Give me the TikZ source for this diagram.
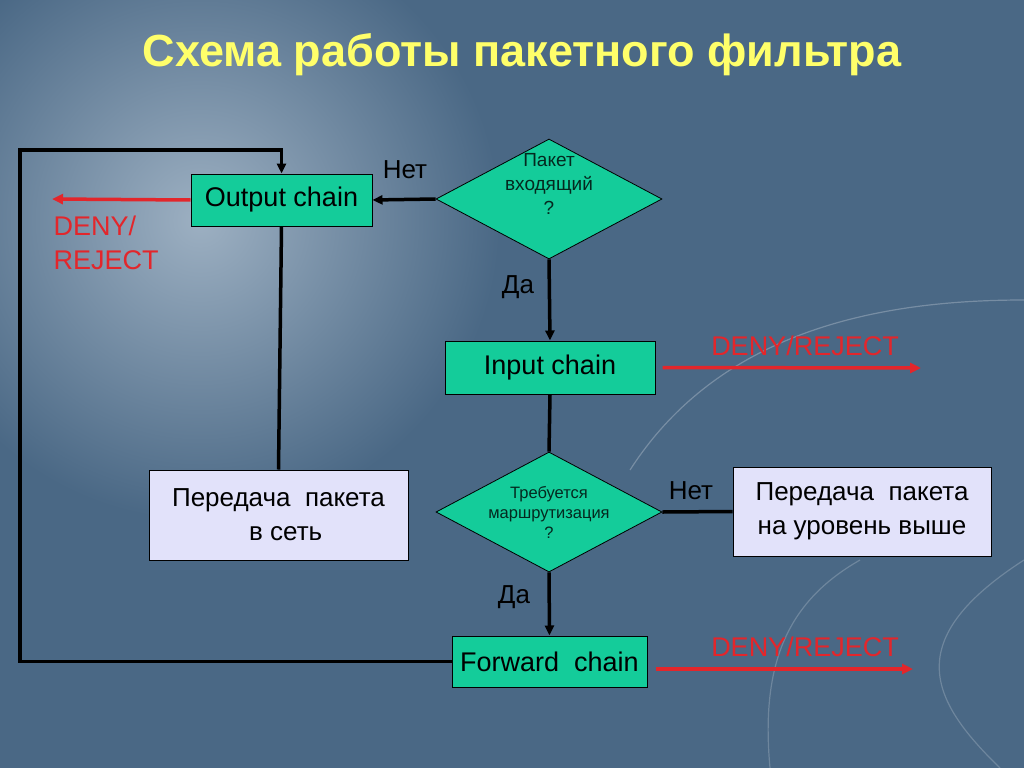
\documentclass[tikz,border=0pt]{standalone}
\usepackage{fontspec}
\setmainfont{Liberation Sans}
\usepackage{xcolor}
\usepackage{tikz}
\usetikzlibrary{arrows.meta,calc,positioning,shapes.geometric}
\definecolor{bg}{HTML}{4A6885}
\definecolor{bglight}{HTML}{9DB0C2}
\definecolor{chain}{HTML}{14CC9A}
\definecolor{lav}{HTML}{E2E2FA}
\definecolor{deny}{HTML}{E3262B}
\definecolor{head}{HTML}{FFFF6A}

\begin{document}
\begin{tikzpicture}[x=1pt,y=-1pt,>={Triangle[length=10pt,width=9pt]},
  chainbox/.style={draw=black,line width=1pt,fill=chain,inner sep=0pt,font=\fontsize{27}{30}\selectfont},
  askbox/.style={diamond,draw=black,line width=0.8pt,fill=chain,inner sep=-6pt,align=center,text=black!80!chain},
  sendbox/.style={draw=black,line width=1pt,fill=lav,inner sep=0pt,align=center,font=\fontsize{26}{34}\selectfont},
  flow/.style={line width=3.5pt,black},
  denyflow/.style={line width=3.5pt,deny,-{Triangle[length=11pt,width=10pt]}},
  yesno/.style={font=\fontsize{26}{28}\selectfont,text=black},
  denytext/.style={font=\fontsize{27}{34}\selectfont,text=deny,align=left}]
\useasboundingbox (0,0) rectangle (1024,768);
% background
\fill[bg] (0,0) rectangle (1024,768);
\shade[inner color=bglight,outer color=bg] (200,220) circle (300);
\draw[white,opacity=0.25,line width=1.2pt] (630,470) .. controls (720,330) and (880,300) .. (1024,300);
\draw[white,opacity=0.2,line width=1.2pt] (770,768) .. controls (760,660) and (790,600) .. (860,560);
\draw[white,opacity=0.2,line width=1.2pt] (1000,768) .. controls (930,700) and (900,640) .. (1024,560);
\node[font=\fontsize{45}{50}\selectfont\bfseries,text=head] (title) at (522,55) {Схема работы пакетного фильтра};
% blocks
\node[askbox,minimum width=226pt,minimum height=120pt,aspect=1.88,font=\fontsize{19}{24}\selectfont] (isin) at (549,199) {Пакет\\входящий\\?\\[6pt]};
\node[chainbox,minimum width=181pt,minimum height=52pt] (outc) at (281.5,200) {Output chain};
\node[chainbox,minimum width=210pt,minimum height=53pt] (inc) at (550,367.5) {Input chain};
\node[askbox,minimum width=226pt,minimum height=120pt,aspect=1.88,font=\fontsize{16.5}{20}\selectfont] (route) at (549,512) {Требуется\\маршрутизация\\?};
\node[chainbox,minimum width=195pt,minimum height=51pt] (fwdc) at (549.5,661.5) {Forward\ \ chain};
\node[sendbox,minimum width=259pt,minimum height=90pt] (netbox) at (278.5,515) {Передача\ \ пакета\\\ \ в сеть};
\node[sendbox,minimum width=258pt,minimum height=89pt] (upbox) at (862,511.5) {Передача\ \ пакета\\на уровень выше};
\coordinate (loopc) at (20,150);
\coordinate (deny1) at (52,199);
\coordinate (deny2) at (921,368);
\coordinate (deny3) at (913,669);
% connectors
\draw[flow,->] (isin.west) -- (outc.east);
\node[yesno] (no1) at (405,170) {Нет};
\draw[flow,->] (isin.south) -- (inc.north);
\node[yesno] (yes1) at (518,287) {Да};
\draw[flow] (inc.south) -- (route.north);
\draw[flow] (route.east) -- (upbox.west);
\node[yesno] (no2) at (691,491) {Нет};
\draw[flow,->] (route.south) -- (fwdc.north);
\node[yesno] (yes2) at (514,597) {Да};
\draw[flow] (netbox.north) -- (outc.south);
\draw[flow,->] (fwdc.west) -| (loopc) -| (outc.north);
% deny
\draw[denyflow] (outc.west) -- (deny1);
\node[denytext,anchor=north west] (denyout) at (50,212) {DENY/\\REJECT};
\draw[denyflow,shorten <=7pt] (inc.east) -- (deny2);
\node[denytext] (denyin) at (805,346) {DENY/REJECT};
\draw[denyflow,shorten <=8pt] (fwdc.east |- deny3) -- (deny3);
\node[denytext] (denyfwd) at (805,647) {DENY/REJECT};
\end{tikzpicture}
\end{document}
